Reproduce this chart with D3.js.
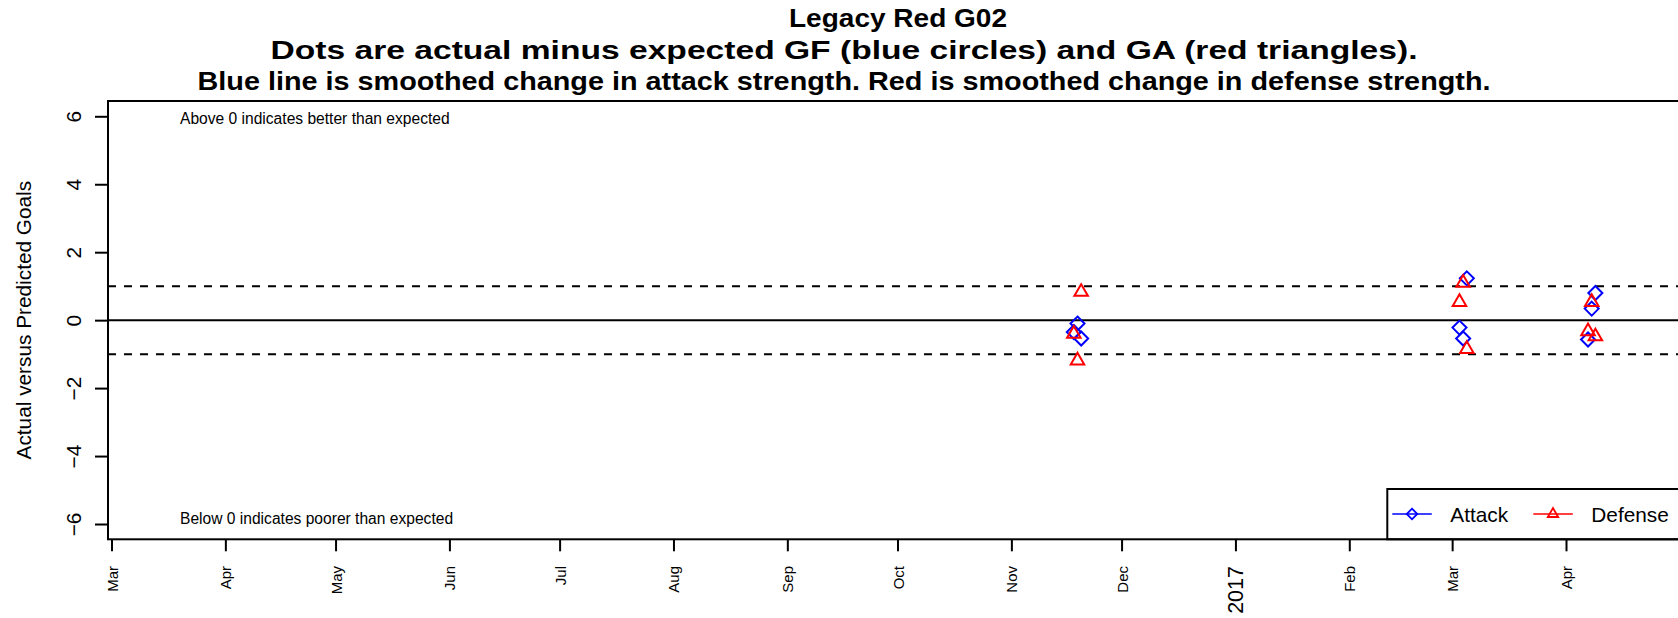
<!DOCTYPE html>
<html>
<head>
<meta charset="utf-8">
<script src="https://cdn.jsdelivr.net/npm/d3@7"></script>
<style>
  body { margin: 0; background: #fff; }
  svg { display: block; }
  text { font-family: "Liberation Sans", Arial, Helvetica, sans-serif; fill: #000; }
</style>
</head>
<body>
<div id="chart"></div>
<script>
// game dates and actual-minus-expected values
var attackDates = ["2016-11-18", "2016-11-19", "2016-11-20", "2017-03-03", "2017-03-04", "2017-03-05", "2017-04-07", "2017-04-08", "2017-04-09"];
var attackVals  = [-0.35, -0.10, -0.54, -0.22, -0.54, 1.23, -0.57, 0.34, 0.80];
var defenseDates = ["2016-11-18", "2016-11-19", "2016-11-20", "2017-03-03", "2017-03-04", "2017-03-05", "2017-04-07", "2017-04-08", "2017-04-09"];
var defenseVals  = [-0.40, -1.19, 0.83, 0.53, 1.10, -0.85, -0.33, 0.53, -0.48];

var monthTicks = ["2016-03-01", "2016-04-01", "2016-05-01", "2016-06-01", "2016-07-01", "2016-08-01", "2016-09-01",
                  "2016-10-01", "2016-11-01", "2016-12-01", "2017-01-01", "2017-02-01", "2017-03-01", "2017-04-01"];
var monthLabels = ["Mar", "Apr", "May", "Jun", "Jul", "Aug", "Sep", "Oct", "Nov", "Dec", "2017", "Feb", "Mar", "Apr"];
var yTicks = [-6, -4, -2, 0, 2, 4, 6];
var refLines = [1, -1];

var titleLines = ["Legacy Red G02",
                  "Dots are actual minus expected GF (blue circles) and GA (red triangles).",
                  "Blue line is smoothed change in attack strength. Red is smoothed change in defense strength."];
var legendNames = ["Attack", "Defense"];

var W = 1678, H = 618;
var pL = 108, pR = 1688, pT = 101, pB = 539.3;

var parse = d3.utcParse("%Y-%m-%d");

var svg = d3.select("#chart").append("svg").attr("width", W).attr("height", H);

var x = d3.scaleUtc()
    .domain([parse("2016-03-01"), parse("2017-04-01")])
    .range([111.5, 1566]);
var y = d3.scaleLinear().domain([-6.45, 6.45]).range([pB, pT]);

// titles
var titleX = [898, 844, 844], titleY = [27, 59, 90], titleW = [218, 1147, 1293];
titleLines.forEach(function(t, i){
    svg.append("text")
        .attr("x", titleX[i]).attr("y", titleY[i])
        .attr("text-anchor", "middle")
        .attr("font-weight", "bold")
        .attr("font-size", 26)
        .attr("textLength", titleW[i])
        .attr("lengthAdjust", "spacingAndGlyphs")
        .text(t);
});

// reference lines
svg.append("line")
    .attr("x1", pL).attr("x2", pR)
    .attr("y1", y(0)).attr("y2", y(0))
    .attr("stroke", "#000").attr("stroke-width", 2);
svg.selectAll(".ref").data(refLines).enter().append("line")
    .attr("x1", pL).attr("x2", pR)
    .attr("y1", function(d){ return y(d); }).attr("y2", function(d){ return y(d); })
    .attr("stroke", "#000").attr("stroke-width", 2)
    .attr("stroke-dasharray", "8,8");

// notes
svg.append("text").attr("x", 180).attr("y", y(6) + 2).attr("dy", "0.35em")
    .attr("font-size", 15.6).text("Above 0 indicates better than expected");
svg.append("text").attr("x", 180).attr("y", y(-6) - 5).attr("dy", "0.35em")
    .attr("font-size", 15.6).text("Below 0 indicates poorer than expected");

// points
function diamond(s){ return "M0," + (-s) + "L" + s + ",0L0," + s + "L" + (-s) + ",0Z"; }
function triangle(r){
    var xc = r * 1.347 / 1.555, yc = r / 2;
    return "M0," + (-r) + "L" + xc + "," + yc + "L" + (-xc) + "," + yc + "Z";
}

svg.selectAll(".att").data(attackDates).enter().append("path")
    .attr("d", diamond(7))
    .attr("transform", function(d, i){ return "translate(" + x(parse(d)) + "," + y(attackVals[i]) + ")"; })
    .attr("fill", "none").attr("stroke", "#0000ff").attr("stroke-width", 2);

svg.selectAll(".def").data(defenseDates).enter().append("path")
    .attr("d", triangle(7.8))
    .attr("transform", function(d, i){ return "translate(" + x(parse(d)) + "," + y(defenseVals[i]) + ")"; })
    .attr("fill", "none").attr("stroke", "#ff0000").attr("stroke-width", 2);

// y axis
var yAxis = svg.append("g").attr("transform", "translate(" + pL + ",0)")
    .call(d3.axisLeft(y).tickValues(yTicks).tickSize(13).tickFormat(d3.format("d")));
yAxis.select(".domain").remove();
yAxis.selectAll("line").attr("stroke-width", 2);
yAxis.selectAll("text")
    .attr("x", null).attr("dy", null)
    .attr("transform", "translate(-35,0) rotate(-90)")
    .attr("text-anchor", "middle")
    .attr("dominant-baseline", "central")
    .attr("font-size", 20.8)
    .attr("font-family", "Liberation Sans, Arial, sans-serif")
    .attr("fill", "#000");

svg.append("text")
    .attr("transform", "translate(23," + y(0) + ") rotate(-90)")
    .attr("text-anchor", "middle").attr("dominant-baseline", "central")
    .attr("font-size", 20.8)
    .text("Actual versus Predicted Goals");

// x axis
var xAxis = svg.append("g").attr("transform", "translate(0," + pB + ")")
    .call(d3.axisBottom(x).tickValues(monthTicks.map(parse)).tickSize(12)
        .tickFormat(function(d, i){ return monthLabels[i]; }));
xAxis.select(".domain").remove();
xAxis.selectAll("line").attr("stroke-width", 2);
xAxis.selectAll("text")
    .attr("y", null).attr("dy", null)
    .attr("transform", "translate(0,26.7) rotate(-90)")
    .attr("text-anchor", "end")
    .attr("dominant-baseline", "central")
    .attr("font-size", function(d, i){ return monthLabels[i] === "2017" ? 21.5 : 15; })
    .attr("font-family", "Liberation Sans, Arial, sans-serif")
    .attr("fill", "#000");

// legend
var lg = svg.append("g");
lg.append("rect")
    .attr("x", 1387.3).attr("y", 489)
    .attr("width", pR - 1387.3).attr("height", pB - 489)
    .attr("fill", "#fff").attr("stroke", "#000").attr("stroke-width", 2);
var legX = [1392.3, 1533.3], legCol = ["#0000ff", "#ff0000"];
legendNames.forEach(function(n, i){
    var ly = 514;
    lg.append("line").attr("x1", legX[i]).attr("x2", legX[i] + 39.5)
        .attr("y1", ly).attr("y2", ly)
        .attr("stroke", legCol[i]).attr("stroke-width", 1.5);
    lg.append("path")
        .attr("d", i === 0 ? diamond(5.3) : triangle(6))
        .attr("transform", "translate(" + (legX[i] + 19.7) + "," + ly + ")")
        .attr("fill", "none").attr("stroke", legCol[i]).attr("stroke-width", 1.8);
    lg.append("text").attr("x", legX[i] + 58).attr("y", ly)
        .attr("dominant-baseline", "central")
        .attr("font-size", 20.8).text(n);
});

// plot box
svg.append("rect")
    .attr("x", pL).attr("y", pT)
    .attr("width", pR - pL).attr("height", pB - pT)
    .attr("fill", "none").attr("stroke", "#000").attr("stroke-width", 2);
</script>
</body>
</html>
